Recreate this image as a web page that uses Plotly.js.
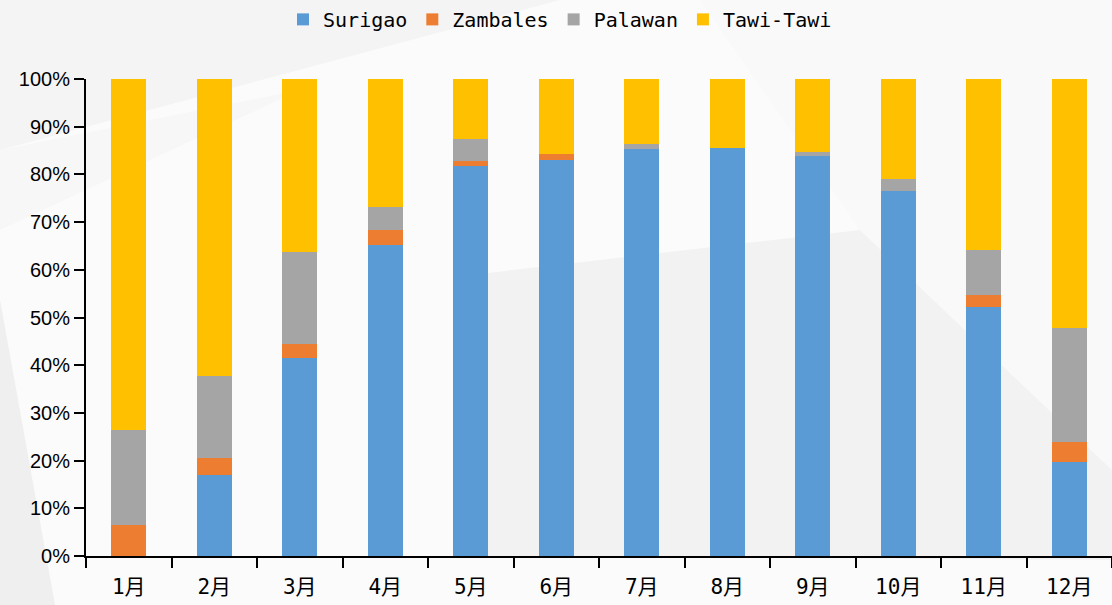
<!DOCTYPE html>
<html><head><meta charset="utf-8">
<script src="https://cdn.plot.ly/plotly-3.0.1.min.js"></script>
<style>html,body{margin:0;padding:0;background:#fbfbfb}</style>
</head><body>
<div id="chart" style="width:1112px;height:605px"></div>
<script>
const months = ['1月','2月','3月','4月','5月','6月','7月','8月','9月','10月','11月','12月'];
const surigao  = [0, 17.0, 41.6, 65.1, 81.8, 83.0, 85.3, 85.5, 83.9, 76.5, 52.1, 19.8];
const zambales = [6.5, 3.6, 2.9, 3.2, 1.0, 1.3, 0, 0, 0, 0, 2.6, 4.2];
const palawan  = [19.9, 17.1, 19.3, 4.9, 4.6, 0, 1.1, 0, 0.9, 2.5, 9.5, 23.9];
const tawitawi = months.map((m,i)=>+(100 - surigao[i]-zambales[i]-palawan[i]).toFixed(1));
const seriesNames = ['Surigao','Zambales','Palawan','Tawi-Tawi'];
const seriesColors = ['#5b9bd5','#ed7d31','#a5a5a5','#ffc000'];
const seriesData = [surigao, zambales, palawan, tawitawi];

const traces = seriesData.map((d,i)=>({
  type:'bar', name:seriesNames[i], x:months, y:d,
  marker:{color:seriesColors[i], line:{width:0}},
  hovertemplate:'%{x} '+seriesNames[i]+': %{y}%<extra></extra>'
}));

// pixel -> paper helpers for faint watermark shapes
const L=86, W=1026, B=556, H=477;
const px = x => (x-L)/W, py = y => (B-y)/H;
function poly(pts, color){
  return {type:'path', xref:'paper', yref:'paper', layer:'below',
    path:'M'+pts.map(p=>px(p[0]).toFixed(4)+','+py(p[1]).toFixed(4)).join(' L')+' Z',
    fillcolor:color, line:{width:0}};
}
const shapes = [
  poly([[0,0],[560,0],[0,150]], '#f4f4f4'),
  poly([[0,150],[300,90],[0,230]], '#f7f7f7'),
  poly([[0,300],[55,605],[0,605]], '#efefef'),
  poly([[470,275],[860,230],[1112,470],[1112,560],[470,556]], '#f2f2f2'),
  poly([[700,0],[1112,0],[1112,470],[860,230]], '#f9f9f9')
];

const layout = {
  width:1112, height:605,
  paper_bgcolor:'#fbfbfb', plot_bgcolor:'rgba(0,0,0,0)',
  margin:{l:86, r:0, t:79, b:49, autoexpand:false},
  barmode:'stack', bargap:0.59,
  showlegend:true,
  legend:{orientation:'h', traceorder:'normal', x:0.462, xanchor:'center', y:1.125, yanchor:'middle',
    font:{family:'"DejaVu Sans Mono", monospace', size:20, color:'#000'},
    itemwidth:30, tracegroupgap:0, bgcolor:'rgba(0,0,0,0)'},
  xaxis:{type:'category', tickson:'boundaries', ticks:'outside', ticklen:10, tickwidth:2, tickcolor:'#000',
    showline:true, linecolor:'#000', linewidth:2, showgrid:false, automargin:false, ticklabelstandoff:11,
    tickfont:{family:'"DejaVu Sans Mono", "Noto Sans CJK SC", sans-serif', size:21, color:'#000'}},
  yaxis:{range:[0,100], dtick:10, ticksuffix:'%', ticks:'outside', ticklen:10, tickwidth:2, tickcolor:'#000',
    showline:true, linecolor:'#000', linewidth:2, showgrid:false, zeroline:false, automargin:false,
    tickfont:{family:'"Liberation Sans", Arial, sans-serif', size:20, color:'#000'}},
  shapes:shapes
};
Plotly.newPlot('chart', traces, layout, {displayModeBar:false, staticPlot:true});
</script>
</body></html>
